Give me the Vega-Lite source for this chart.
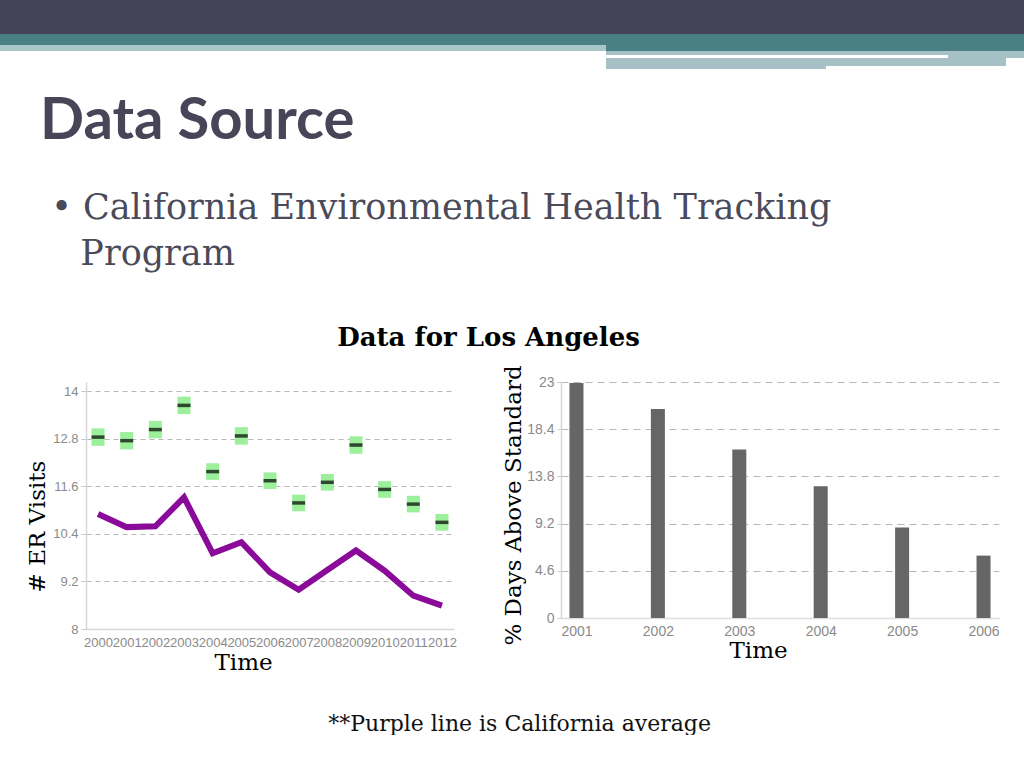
{
  "$schema": "https://vega.github.io/schema/vega-lite/v6.json",
  "padding": 0,
  "background": "white",
  "spacing": 0,
  "config": {"view": {"stroke": null}, "concat": {"spacing": 0}},
  "datasets": {
    "er": [
      {"year": "2000", "mean": 12.84, "lo": 12.62, "hi": 13.06, "ca": 10.90},
      {"year": "2001", "mean": 12.75, "lo": 12.53, "hi": 12.97, "ca": 10.57},
      {"year": "2002", "mean": 13.03, "lo": 12.81, "hi": 13.25, "ca": 10.59},
      {"year": "2003", "mean": 13.64, "lo": 13.42, "hi": 13.86, "ca": 11.32},
      {"year": "2004", "mean": 11.97, "lo": 11.76, "hi": 12.18, "ca": 9.91},
      {"year": "2005", "mean": 12.87, "lo": 12.65, "hi": 13.09, "ca": 10.19},
      {"year": "2006", "mean": 11.74, "lo": 11.53, "hi": 11.95, "ca": 9.43},
      {"year": "2007", "mean": 11.18, "lo": 10.97, "hi": 11.39, "ca": 8.99},
      {"year": "2008", "mean": 11.70, "lo": 11.49, "hi": 11.91, "ca": 9.49},
      {"year": "2009", "mean": 12.64, "lo": 12.42, "hi": 12.86, "ca": 9.98},
      {"year": "2010", "mean": 11.52, "lo": 11.31, "hi": 11.73, "ca": 9.47},
      {"year": "2011", "mean": 11.15, "lo": 10.94, "hi": 11.36, "ca": 8.84},
      {"year": "2012", "mean": 10.69, "lo": 10.48, "hi": 10.90, "ca": 8.59}
    ],
    "days": [
      {"year": "2001", "pct": 22.9},
      {"year": "2002", "pct": 20.37},
      {"year": "2003", "pct": 16.43},
      {"year": "2004", "pct": 12.85},
      {"year": "2005", "pct": 8.82},
      {"year": "2006", "pct": 6.08}
    ]
  },
  "vconcat": [
    {"width": 1024, "height": 34, "view": {"fill": "#434457", "stroke": null}, "data": {"values": []}, "mark": "point", "encoding": {}},
    {"width": 1024, "height": 11, "view": {"fill": "#4a7f84", "stroke": null}, "data": {"values": []}, "mark": "point", "encoding": {}},
    {"hconcat": [
      {"width": 606, "height": 6, "view": {"fill": "#a9c6c8", "stroke": null}, "data": {"values": []}, "mark": "point", "encoding": {}},
      {"width": 418, "height": 6, "view": {"fill": "#4a7f84", "stroke": null}, "data": {"values": []}, "mark": "point", "encoding": {}}
    ]},
    {"hconcat": [
      {"width": 606, "height": 4, "data": {"values": []}, "mark": "point", "encoding": {}},
      {"width": 418, "height": 4, "view": {"fill": "#a5c1c6", "stroke": null}, "data": {"values": []}, "mark": "point", "encoding": {}}
    ]},
    {"hconcat": [
      {"width": 948, "height": 3, "data": {"values": []}, "mark": "point", "encoding": {}},
      {"width": 76, "height": 3, "view": {"fill": "#a5c1c6", "stroke": null}, "data": {"values": []}, "mark": "point", "encoding": {}}
    ]},
    {"hconcat": [
      {"width": 606, "height": 8, "data": {"values": []}, "mark": "point", "encoding": {}},
      {"width": 400, "height": 8, "view": {"fill": "#a5c1c6", "stroke": null}, "data": {"values": []}, "mark": "point", "encoding": {}}
    ]},
    {"hconcat": [
      {"width": 606, "height": 3, "data": {"values": []}, "mark": "point", "encoding": {}},
      {"width": 220, "height": 3, "view": {"fill": "#a5c1c6", "stroke": null}, "data": {"values": []}, "mark": "point", "encoding": {}}
    ]},
    {"width": 1024, "height": 23, "data": {"values": []}, "mark": "point", "encoding": {}},
    {
      "title": {
        "text": "Data Source",
        "subtitle": ["\u200b\u00a0•\u00a0California Environmental Health Tracking", "\u200b\u00a0\u00a0\u00a0\u2009Program"],
        "anchor": "start",
        "dx": 40,
        "font": "Lato",
        "fontSize": 58,
        "fontWeight": "bold",
        "color": "#464658",
        "subtitleFont": "DejaVu Serif",
        "subtitleFontSize": 35,
        "subtitleColor": "#4a4a5a",
        "subtitleLineHeight": 46,
        "subtitlePadding": 40,
        "offset": 53
      },
      "vconcat": [
        {
          "title": {
            "text": "**Purple line is California average",
            "orient": "bottom",
            "anchor": "middle",
            "font": "DejaVu Serif",
            "fontSize": 22,
            "fontWeight": "normal",
            "color": "#111111",
            "offset": 40,
            "dx": 20
          },
          "hconcat": [
            {"width": 26, "height": 10, "data": {"values": []}, "mark": "point", "encoding": {}},
            {
              "title": {
                "text": "Data for Los Angeles",
                "anchor": "middle",
                "font": "DejaVu Serif",
                "fontSize": 26,
                "fontWeight": "bold",
                "color": "#000000",
                "dx": -24,
                "offset": 14
              },
              "spacing": 44,
              "hconcat": [
                {
                  "width": 368,
                  "height": 247,
                  "data": {"name": "er"},
                  "encoding": {
                    "x": {
                      "field": "year",
                      "type": "ordinal",
                      "scale": {"type": "point", "padding": 0.42},
                      "axis": {
                        "title": "Time",
                        "titleFont": "DejaVu Serif",
                        "titleFontSize": 23,
                        "titleFontWeight": "normal",
                        "titleColor": "#000000",
                        "titleX": 157,
                        "titleY": 40,
                        "titleBaseline": "alphabetic",
                        "labelAngle": 0,
                        "labelOverlap": false,
                        "labelFont": "Liberation Sans",
                        "labelFontSize": 13,
                        "labelColor": "#8a8a8a",
                        "labelPadding": 7,
                        "ticks": false,
                        "domainColor": "#d6d6d6",
                        "domainWidth": 1.5,
                        "grid": false
                      }
                    }
                  },
                  "layer": [
                    {
                      "mark": {"type": "bar", "color": "#9cf09c", "size": 13},
                      "encoding": {
                        "y": {
                          "field": "lo",
                          "type": "quantitative",
                          "scale": {"domain": [8, 14.23], "nice": false, "zero": false},
                          "axis": {
                            "title": "# ER Visits",
                            "titleFont": "DejaVu Serif",
                            "titleFontSize": 23,
                            "titleFontWeight": "normal",
                            "titleColor": "#000000",
                            "titleX": -49,
                            "titleY": 144,
                            "titleBaseline": "middle",
                            "values": [8, 9.2, 10.4, 11.6, 12.8, 14],
                            "format": ".3~g",
                            "labelFont": "Liberation Sans",
                            "labelFontSize": 13,
                            "labelColor": "#8a8a8a",
                            "labelPadding": 3,
                            "tickSize": 5,
                            "tickColor": "#c8c8c8",
                            "domainColor": "#d6d6d6",
                            "domainWidth": 1.5,
                            "gridDash": [5, 4],
                            "gridColor": "#b8b8b8",
                            "gridWidth": 1.2
                          }
                        },
                        "y2": {"field": "hi"}
                      }
                    },
                    {
                      "mark": {"type": "tick", "color": "#000000", "thickness": 3.5, "size": 13},
                      "encoding": {"y": {"field": "mean", "type": "quantitative"}}
                    },
                    {
                      "mark": {"type": "line", "color": "#8a0a99", "strokeWidth": 6},
                      "encoding": {"y": {"field": "ca", "type": "quantitative"}}
                    }
                  ]
                },
                {
                  "width": 438,
                  "height": 236,
                  "data": {"name": "days"},
                  "mark": {"type": "bar", "color": "#666666", "size": 14},
                  "encoding": {
                    "x": {
                      "field": "year",
                      "type": "ordinal",
                      "scale": {"type": "point", "padding": 0.19},
                      "axis": {
                        "title": "Time",
                        "titleFont": "DejaVu Serif",
                        "titleFontSize": 23,
                        "titleFontWeight": "normal",
                        "titleColor": "#000000",
                        "titleX": 197,
                        "titleY": 39,
                        "titleBaseline": "alphabetic",
                        "labelAngle": 0,
                        "labelFont": "Liberation Sans",
                        "labelFontSize": 14,
                        "labelColor": "#8a8a8a",
                        "labelPadding": 6,
                        "ticks": false,
                        "domainColor": "#dddddd",
                        "domainWidth": 1.5,
                        "grid": false
                      }
                    },
                    "y": {
                      "field": "pct",
                      "type": "quantitative",
                      "scale": {"domain": [0, 23], "nice": false},
                      "axis": {
                        "title": "% Days Above Standard",
                        "titleFont": "DejaVu Serif",
                        "titleFontSize": 23,
                        "titleFontWeight": "normal",
                        "titleColor": "#000000",
                        "titleX": -48,
                        "titleY": 123,
                        "titleBaseline": "middle",
                        "values": [0, 4.6, 9.2, 13.8, 18.4, 23],
                        "format": ".3~g",
                        "labelFont": "Liberation Sans",
                        "labelFontSize": 14,
                        "labelColor": "#8a8a8a",
                        "labelPadding": 3,
                        "tickSize": 4,
                        "tickColor": "#cccccc",
                        "domainColor": "#d6d6d6",
                        "domainWidth": 1.5,
                        "gridDash": [7, 5],
                        "gridColor": "#b8b8b8",
                        "gridWidth": 1.2
                      }
                    }
                  }
                }
              ]
            }
          ]
        }
      ]
    }
  ]
}
